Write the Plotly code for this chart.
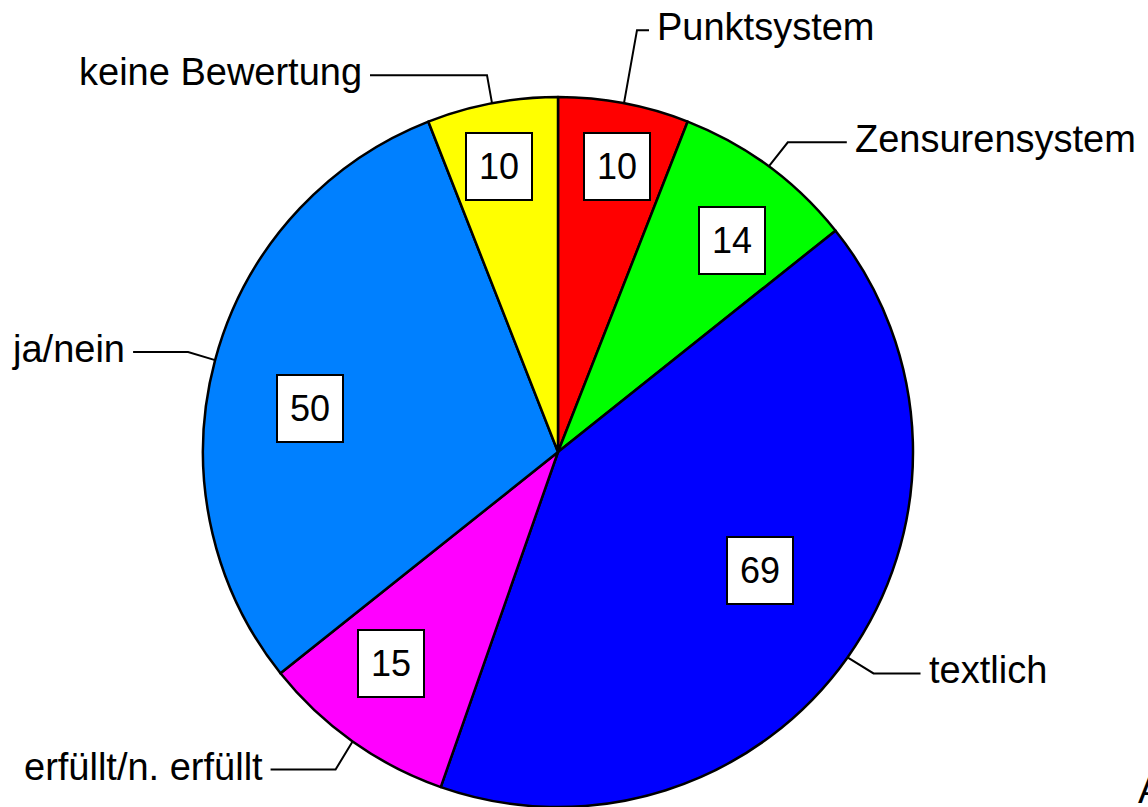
import numpy as np
import plotly.graph_objects as go

# ---- data ----
categories = ["Punktsystem", "Zensurensystem", "textlich",
              "erfüllt/n. erfüllt", "ja/nein", "keine Bewertung"]
values = [10, 14, 69, 15, 50, 10]
colors = ["#FF0000", "#00FF00", "#0000FF", "#FF00FF", "#0080FF", "#FFFF00"]

# ---- layout / style parameters ----
W, H = 1148, 807
CX, CY, R = 558, 452, 355          # pie centre and radius in pixels
FONT = "Liberation Sans, Arial, sans-serif"

# number boxes: radial fraction and angular nudge (deg) from slice mid-angle
box_rfrac = [0.82, 0.77, 0.66, 0.76, 0.71, 0.82]
box_dang = [1, 3, -5, 3, -5, -1]
# leader lines: elbow dx, elbow dy, horizontal end dx (px, relative to rim point)
leader = [(13, -73, 25), (19, -24, 78), (26, 16, 73),
          (-17, 28, -82), (-27, -8, -82), (-5, -28, -122)]


def px(x, y):
    return x / W, 1 - y / H


vals = np.array(values, dtype=float)
cum = np.cumsum(vals)
mid = (cum - vals / 2) / vals.sum() * 360.0

fig = go.Figure(go.Pie(
    labels=categories, values=values, sort=False, direction="clockwise",
    rotation=0, textinfo="none", hoverinfo="label+value",
    marker=dict(colors=colors, line=dict(color="black", width=2.5)),
    domain=dict(x=[(CX - R) / W, (CX + R) / W],
                y=[max(0, (H - CY - R) / H), (H - CY + R) / H]),
    showlegend=False,
))

annotations = []
shapes = []
for i, (cat, v) in enumerate(zip(categories, values)):
    # value box
    a = np.radians(mid[i] + box_dang[i])
    r = box_rfrac[i] * R
    bx, by = CX + r * np.sin(a), CY - r * np.cos(a)
    x, y = px(bx, by)
    annotations.append(dict(
        x=x, y=y, xref="paper", yref="paper", text=str(v), showarrow=False,
        font=dict(family=FONT, size=36, color="black"),
        bgcolor="white", bordercolor="black", borderwidth=2, borderpad=12,
        xanchor="center", yanchor="middle"))
    # leader line + category label
    a = np.radians(mid[i])
    ex, ey = CX + R * np.sin(a), CY - R * np.cos(a)
    edx, edy, hdx = leader[i]
    kx, ky = ex + edx, ey + edy
    hx = ex + hdx
    p0, p1, p2 = px(ex, ey), px(kx, ky), px(hx, ky)
    shapes.append(dict(
        type="path", xref="paper", yref="paper",
        path=f"M {p0[0]},{p0[1]} L {p1[0]},{p1[1]} L {p2[0]},{p2[1]}",
        line=dict(color="black", width=2)))
    right = hdx > 0
    tx, ty = px(hx + (6 if right else -6), ky - 3)
    annotations.append(dict(
        x=tx, y=ty, xref="paper", yref="paper", text=cat, showarrow=False,
        font=dict(family=FONT, size=38, color="black"),
        xanchor="left" if right else "right", yanchor="middle"))

# partially visible caption at the bottom-right edge
cx_, cy_ = px(1136, 790)
annotations.append(dict(x=cx_, y=cy_, xref="paper", yref="paper", text="A",
                        showarrow=False, xanchor="left", yanchor="middle",
                        font=dict(family=FONT, size=38, color="black")))

fig.update_layout(
    width=W, height=H, margin=dict(l=0, r=0, t=0, b=0, pad=0),
    paper_bgcolor="white", plot_bgcolor="white",
    annotations=annotations, shapes=shapes,
)

fig.write_html(
    "out.html",
    config={"displayModeBar": False},
    post_script="document.body.style.margin='0px';"
                "document.body.style.overflow='hidden';",
)
